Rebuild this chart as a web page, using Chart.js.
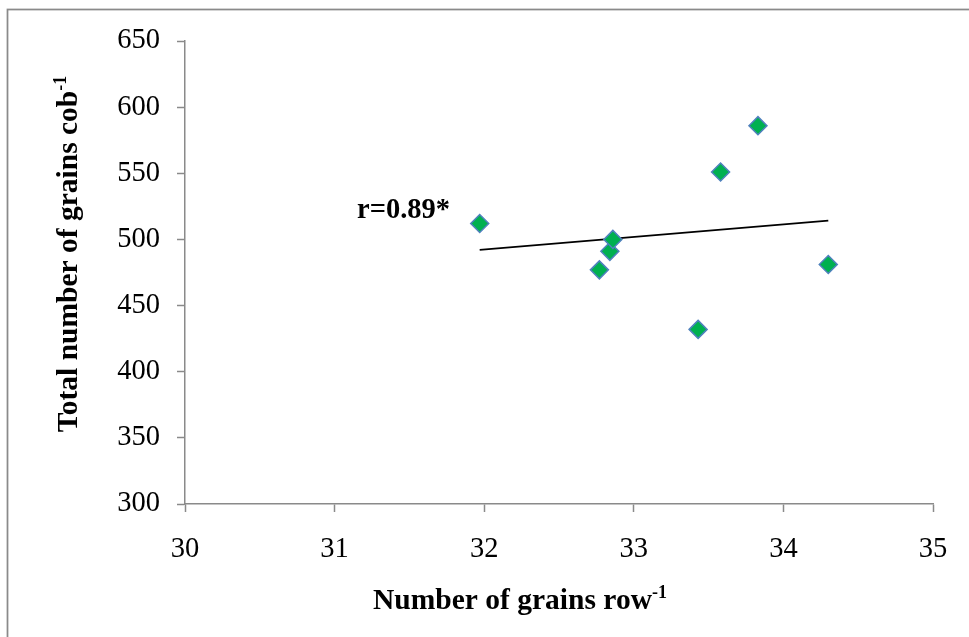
<!DOCTYPE html>
<html>
<head>
<meta charset="utf-8">
<script src="https://cdn.jsdelivr.net/npm/chart.js@4/dist/chart.umd.min.js"></script>
<style>
  html, body { margin: 0; padding: 0; background: #ffffff; }
  #wrap { width: 969px; height: 637px; position: relative; }
</style>
</head>
<body>
<div id="wrap"><canvas id="c" width="969" height="637"></canvas></div>
<script>
// Number of grains per row (x) and total grains per cob (y) for each entry
const grainsPerRow = [31.97, 32.77, 32.84, 32.86, 33.43, 33.58, 33.83, 34.30];
const grainsPerCob = [512, 477, 491, 500, 432, 551, 586, 481];

// Axis ranges and tick steps
const xTicks = [30, 31, 32, 33, 34, 35];
const yTicks = [300, 350, 400, 450, 500, 550, 600, 650];

// Correlation note and where it sits (in data units)
const corrLabel = 'r=0.89*';
const corrAt = { x: 31.15, y: 516 };

// Least-squares trend line across the observed x range
function linearFit(xs, ys) {
  const n = xs.length;
  const mx = xs.reduce((a, b) => a + b, 0) / n;
  const my = ys.reduce((a, b) => a + b, 0) / n;
  let sxy = 0, sxx = 0;
  for (let i = 0; i < n; i++) {
    sxy += (xs[i] - mx) * (ys[i] - my);
    sxx += (xs[i] - mx) * (xs[i] - mx);
  }
  const slope = sxy / sxx;
  return x => my + slope * (x - mx);
}
const fit = linearFit(grainsPerRow, grainsPerCob);
const xMinObs = Math.min(...grainsPerRow);
const xMaxObs = Math.max(...grainsPerRow);
const trendPoints = [
  { x: xMinObs, y: fit(xMinObs) },
  { x: xMaxObs, y: fit(xMaxObs) }
];

const points = grainsPerRow.map((x, i) => ({ x, y: grainsPerCob[i] }));

const AXIS_GREY = '#8a8a8a';
const SERIF = '"Liberation Serif", "Times New Roman", serif';
const TITLE_SIZE = 29.5;
const TICK_SIZE = 28.5;

// Draws a bold title with a superscript "-1" suffix
function drawSupTitle(ctx, main, sup, cx, baseline, size) {
  ctx.font = 'bold ' + size + 'px ' + SERIF;
  const wMain = ctx.measureText(main).width;
  const supSize = Math.round(size * 0.62);
  ctx.font = 'bold ' + supSize + 'px ' + SERIF;
  const wSup = ctx.measureText(sup).width;
  const start = cx - (wMain + wSup) / 2;
  ctx.textAlign = 'left';
  ctx.textBaseline = 'alphabetic';
  ctx.font = 'bold ' + size + 'px ' + SERIF;
  ctx.fillText(main, start, baseline);
  ctx.font = 'bold ' + supSize + 'px ' + SERIF;
  ctx.fillText(sup, start + wMain, baseline - size * 0.36);
}

const decorations = {
  id: 'decorations',
  beforeDraw(chart) {
    const ctx = chart.ctx;
    ctx.save();
    ctx.fillStyle = '#ffffff';
    ctx.fillRect(0, 0, chart.width, chart.height);
    // outer frame of the chart
    ctx.strokeStyle = AXIS_GREY;
    ctx.lineWidth = 1.75;
    ctx.strokeRect(7.5, 9.5, chart.width + 20, chart.height + 20);
    ctx.restore();
  },
  afterDraw(chart) {
    const ctx = chart.ctx;
    const xs = chart.scales.x, ys = chart.scales.y;
    ctx.save();
    ctx.fillStyle = '#000000';
    // x axis title
    drawSupTitle(ctx, 'Number of grains row', '-1', 520, 609, TITLE_SIZE);
    // y axis title (rotated)
    ctx.save();
    ctx.translate(77, 254);
    ctx.rotate(-Math.PI / 2);
    drawSupTitle(ctx, 'Total number of grains cob', '-1', 0, 0, TITLE_SIZE);
    ctx.restore();
    // correlation coefficient
    ctx.font = 'bold 28.5px ' + SERIF;
    ctx.textAlign = 'left';
    ctx.textBaseline = 'alphabetic';
    ctx.fillText(corrLabel, xs.getPixelForValue(corrAt.x), ys.getPixelForValue(corrAt.y));
    ctx.restore();
  }
};

new Chart(document.getElementById('c'), {
  type: 'scatter',
  data: {
    datasets: [
      {
        type: 'line',
        label: 'Trend',
        data: trendPoints,
        borderColor: '#000000',
        borderWidth: 1.75,
        pointRadius: 0,
        fill: false,
        order: 2
      },
      {
        label: 'Grains',
        data: points,
        pointStyle: 'rectRot',
        pointRadius: 9,
        pointHoverRadius: 9,
        backgroundColor: '#00b050',
        borderColor: '#4f81bd',
        borderWidth: 1.5,
        order: 1
      }
    ]
  },
  options: {
    responsive: false,
    animation: false,
    events: [],
    layout: { padding: { left: 0, top: 41, right: 36, bottom: 0 } },
    plugins: {
      legend: { display: false },
      tooltip: { enabled: false },
      title: { display: false }
    },
    scales: {
      x: {
        type: 'linear',
        min: xTicks[0],
        max: xTicks[xTicks.length - 1],
        afterBuildTicks(scale) { scale.ticks = xTicks.map(v => ({ value: v })); },
        afterFit(scale) { scale.height = 133; },
        grid: {
          display: true,
          drawOnChartArea: false,
          drawTicks: true,
          tickLength: 8,
          tickColor: AXIS_GREY,
          tickWidth: 1.5
        },
        border: { display: true, color: AXIS_GREY, width: 1.5 },
        ticks: {
          color: '#000000',
          padding: 20,
          font: { family: SERIF, size: TICK_SIZE },
          maxRotation: 0
        }
      },
      y: {
        type: 'linear',
        min: yTicks[0],
        max: yTicks[yTicks.length - 1],
        afterBuildTicks(scale) { scale.ticks = yTicks.map(v => ({ value: v })); },
        afterFit(scale) { scale.width = 185; },
        grid: {
          display: true,
          drawOnChartArea: false,
          drawTicks: true,
          tickLength: 8,
          tickColor: AXIS_GREY,
          tickWidth: 1.5
        },
        border: { display: true, color: AXIS_GREY, width: 1.5 },
        ticks: {
          color: '#000000',
          padding: 17,
          font: { family: SERIF, size: TICK_SIZE }
        }
      }
    }
  },
  plugins: [decorations]
});
</script>
</body>
</html>
